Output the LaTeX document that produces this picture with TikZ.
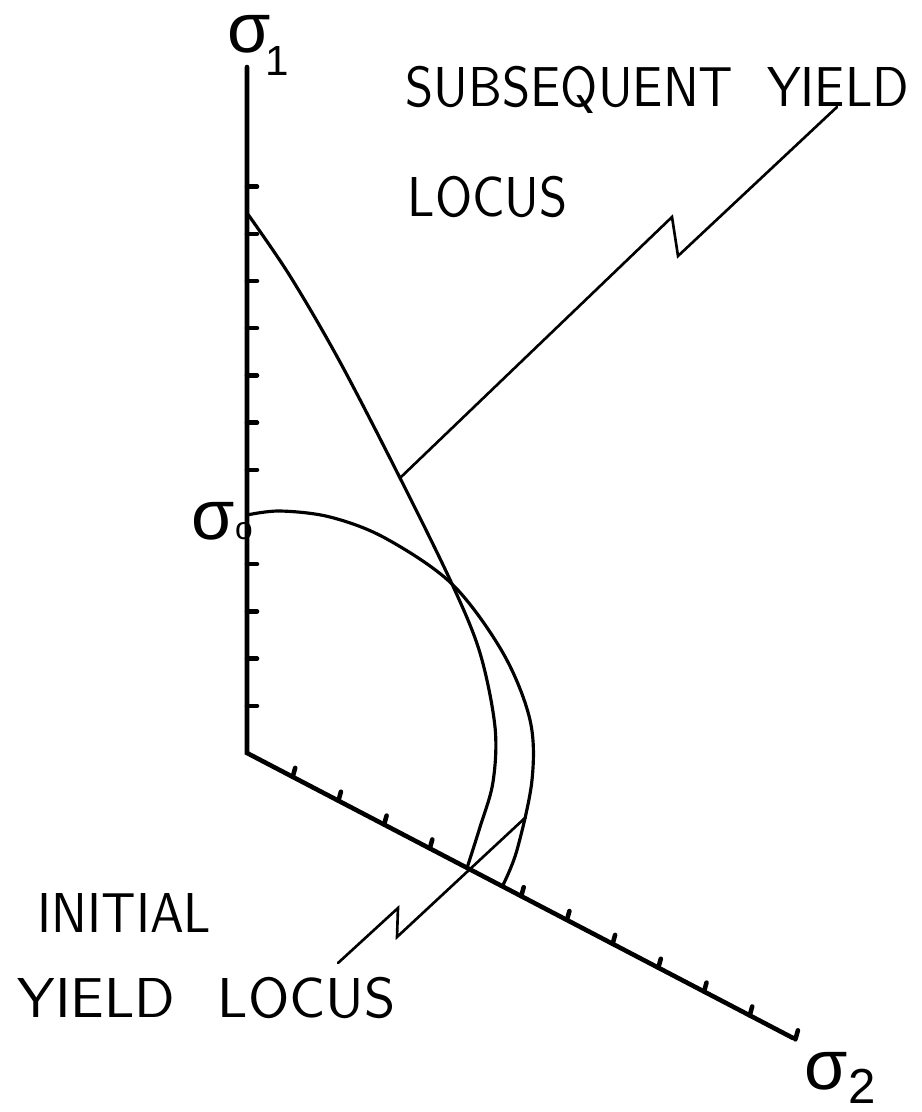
\documentclass[tikz,border=0pt]{standalone}
\usepackage{fontspec}
\newfontfamily\plotfont{lmsans10-regular.otf}[FakeStretch=0.9]
\newfontfamily\plotwide{lmsans10-regular.otf}
\newfontfamily\grkfont{Liberation Sans}
\usetikzlibrary{calc}
\begin{document}
\begin{tikzpicture}[line cap=round,
	axis/.style={line width=1.3pt},
	locus/.style={line width=0.9pt},
	leader/.style={line width=0.75pt},
	lbl/.style={inner sep=0pt, anchor=base west, font=\plotfont\fontsize{16}{16}\selectfont},
	sym/.style={inner sep=0pt, anchor=base west, font=\grkfont\fontsize{20}{20}\selectfont}]
	\useasboundingbox (0,0) rectangle (9.22,-11.12);
	% axes
	\coordinate (O) at (2.47,-7.53);
	\coordinate (s1end) at (2.47,-0.67);
	\coordinate (s2end) at (7.93,-10.38);
	\draw[axis] (s1end) -- (O) -- (s2end);
	\foreach \k in {1,...,4,6,7,...,12}
		\draw[axis] ([yshift=\k*4.72mm]O) -- ++(0.10,0);
	\foreach \k in {1,...,4,6,7,...,12}
		\draw[axis] ($(O)+(0.457*\k,-0.2386*\k)$) -- ++(0.025,0.09);
	\node[sym] (sig1) at (2.27,-0.53) {σ\kern-1.5pt\raisebox{-6.5pt}{\fontsize{12}{12}\selectfont 1}};
	\node[sym] (sig0) at (1.91,-5.39) {σ{\fontsize{9}{9}\selectfont o}};
	\node[sym] (sig2) at (8.04,-10.89) {σ\raisebox{-4pt}{\fontsize{14}{14}\selectfont 2}};
	% initial yield locus
	\draw[locus] plot[smooth, tension=0.55] coordinates {(2.47,-5.15) (2.80,-5.11) (3.30,-5.17) (3.85,-5.38) (4.52,-5.84) (5.03,-6.53) (5.30,-7.20) (5.32,-7.80) (5.17,-8.50) (5.03,-8.85)};
	% subsequent yield locus
	\draw[locus] plot[smooth, tension=0.55] coordinates {(2.47,-2.13) (2.90,-2.76) (3.40,-3.62) (4.00,-4.78) (4.52,-5.84) (4.80,-6.53) (4.95,-7.27) (4.93,-7.82) (4.80,-8.27) (4.67,-8.68)};
	% labels and leaders
	\node[lbl] (subtxt) at (4.05,-1.07) {SUBSEQUENT\hspace{0.6em}YIELD};
	\node[lbl] (subtxt2) at (4.07,-2.17) {LOCUS};
	\node[lbl] (initxt) at (0.37,-9.32) {INITIAL};
	\node[lbl, font=\plotwide\fontsize{16}{16}\selectfont] (initxt2) at (0.17,-10.17) {YIELD\hspace{0.75em}LOCUS};
	\coordinate (subfoot) at (8.37,-1.07);
	\coordinate (subtip) at (4.00,-4.78);
	\coordinate (inifoot) at (3.38,-9.63);
	\coordinate (initip) at (5.26,-8.17);
	\draw[leader] (subfoot) -- (6.78,-2.56) -- (6.72,-2.17) -- (subtip);
	\draw[leader] (initip) -- (3.97,-9.37) -- (3.98,-9.08) -- (inifoot);
\end{tikzpicture}
\end{document}
